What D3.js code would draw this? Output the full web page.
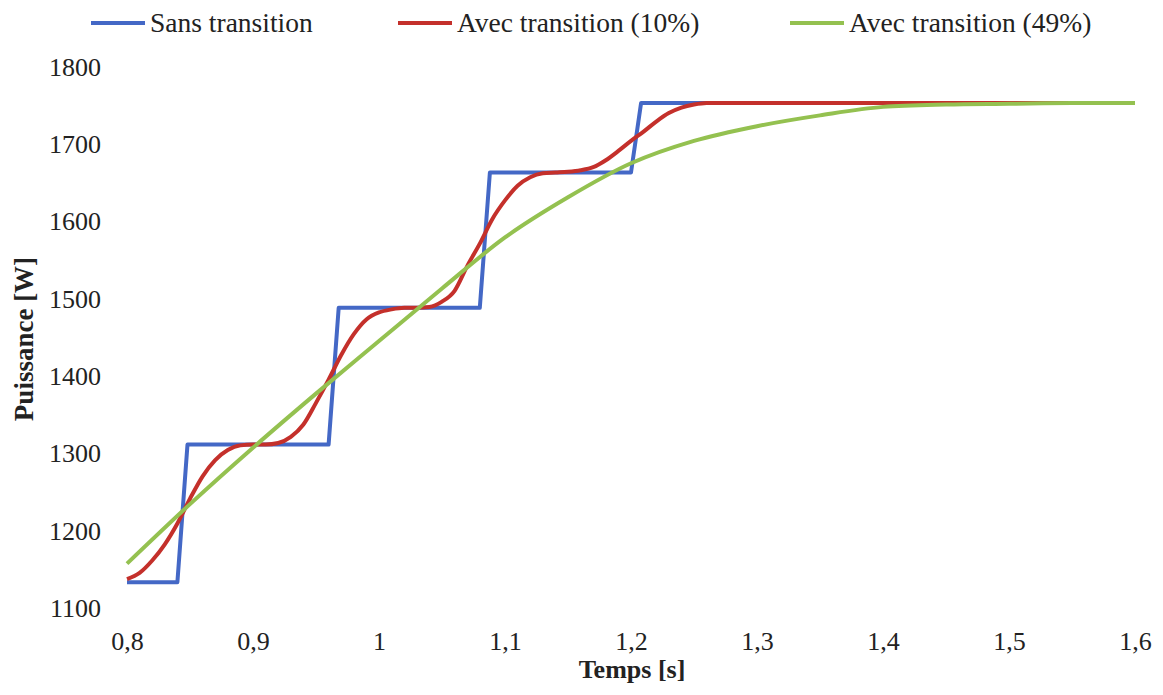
<!DOCTYPE html>
<html>
<head>
<meta charset="utf-8">
<script src="https://cdn.jsdelivr.net/npm/d3@7"></script>
<style>
  html, body { margin: 0; padding: 0; background: #fff; }
</style>
</head>
<body>
<svg id="chart" width="1163" height="695"></svg>
<script>
// Time axis (s) and tick labels (French decimal comma)
const xTicks = [0.8, 0.9, 1.0, 1.1, 1.2, 1.3, 1.4, 1.5, 1.6];
const xTickLabels = ["0,8", "0,9", "1", "1,1", "1,2", "1,3", "1,4", "1,5", "1,6"];
const yTicks = [1100, 1200, 1300, 1400, 1500, 1600, 1700, 1800];

// Series names
const seriesNames = ["Sans transition", "Avec transition (10%)", "Avec transition (49%)"];

// Power without transition: stepped profile
const sansT = [0.80, 0.84, 0.848, 0.96, 0.968, 1.08, 1.088, 1.20, 1.208, 1.60];
const sansP = [1136, 1136, 1314, 1314, 1491, 1491, 1666, 1666, 1756, 1756];

// Power with 10 % transition
const t10T = [0.80, 0.81, 0.82, 0.83, 0.84, 0.85, 0.86, 0.87, 0.88, 0.89, 0.90, 0.91, 0.92, 0.93, 0.94,
              0.95, 0.96, 0.97, 0.98, 0.99, 1.00, 1.01, 1.02, 1.03, 1.04, 1.05, 1.06, 1.07, 1.08, 1.09,
              1.10, 1.11, 1.12, 1.13, 1.14, 1.15, 1.16, 1.17, 1.18, 1.19, 1.20, 1.21, 1.22, 1.23, 1.24,
              1.25, 1.26, 1.30, 1.60];
const t10P = [1140, 1148, 1164, 1185, 1212, 1244, 1273, 1294, 1307, 1313, 1314, 1314, 1316, 1324, 1340,
              1368, 1398, 1430, 1457, 1476, 1485, 1489, 1491, 1491, 1492, 1499, 1513, 1545, 1574, 1606,
              1630, 1649, 1660, 1665, 1666, 1667, 1669, 1673, 1682, 1694, 1707, 1719, 1732, 1743, 1750,
              1754, 1756, 1756, 1756];

// Power with 49 % transition
const t49T = [0.80, 0.85, 0.90, 0.95, 1.00, 1.05, 1.10, 1.15, 1.20, 1.25, 1.30, 1.35, 1.40, 1.45, 1.50, 1.55, 1.60];
const t49P = [1160, 1237, 1310, 1380, 1448, 1516, 1582, 1634, 1678, 1707, 1726, 1740, 1751, 1754, 1755, 1756, 1756];

const colors = ["#4468C6", "#C4302B", "#94C150"];
const FONT = "'Liberation Serif', 'Times New Roman', serif";

const svg = d3.select("#chart");

const x = d3.scaleLinear().domain([0.8, 1.6]).range([127, 1135]);
const y = d3.scaleLinear().domain([1100, 1800]).range([610, 69]);

// X axis labels
const xAxis = d3.axisBottom(x)
  .tickValues(xTicks)
  .tickSize(0)
  .tickPadding(0)
  .tickFormat((d, i) => xTickLabels[i]);
const gx = svg.append("g").attr("transform", "translate(0,632)").call(xAxis);
gx.select(".domain").remove();
gx.selectAll("text")
  .attr("dy", "0.71em")
  .style("font-family", FONT).style("font-size", "26px").style("fill", "#222");

// Y axis labels
const yAxis = d3.axisLeft(y).tickValues(yTicks).tickSize(0).tickPadding(0).tickFormat(d3.format("d"));
const gy = svg.append("g").attr("transform", "translate(101,-2)").call(yAxis);
gy.select(".domain").remove();
gy.selectAll("text")
  .style("font-family", FONT).style("font-size", "26px").style("fill", "#222");

// Axis titles
svg.append("text")
  .attr("x", 632).attr("y", 678)
  .attr("text-anchor", "middle")
  .style("font-family", FONT).style("font-size", "26px").style("font-weight", "bold").style("fill", "#222")
  .text("Temps [s]");
svg.append("text")
  .attr("transform", "translate(33,339) rotate(-90)")
  .attr("text-anchor", "middle")
  .style("font-family", FONT).style("font-size", "27px").style("font-weight", "bold").style("fill", "#222")
  .text("Puissance [W]");

// Series lines
const series = [
  { t: sansT, p: sansP, curve: d3.curveLinear },
  { t: t10T, p: t10P, curve: d3.curveMonotoneX },
  { t: t49T, p: t49P, curve: d3.curveMonotoneX }
];
series.forEach((s, i) => {
  const pts = s.t.map((t, k) => [t, s.p[k]]);
  const line = d3.line().x(d => x(d[0])).y(d => y(d[1])).curve(s.curve);
  svg.append("path")
    .datum(pts)
    .attr("d", line)
    .attr("fill", "none")
    .attr("stroke", colors[i])
    .attr("stroke-width", 4)
    .attr("stroke-linejoin", "round");
});

// Legend
const legendX = [91, 398, 790];
const legend = svg.append("g");
seriesNames.forEach((name, i) => {
  const lx = legendX[i];
  legend.append("line")
    .attr("x1", lx).attr("x2", lx + 54)
    .attr("y1", 23).attr("y2", 23)
    .attr("stroke", colors[i]).attr("stroke-width", 4);
  legend.append("text")
    .attr("x", lx + 59).attr("y", 32)
    .style("font-family", FONT).style("font-size", "27.5px").style("fill", "#222")
    .text(name);
});
</script>
</body>
</html>
